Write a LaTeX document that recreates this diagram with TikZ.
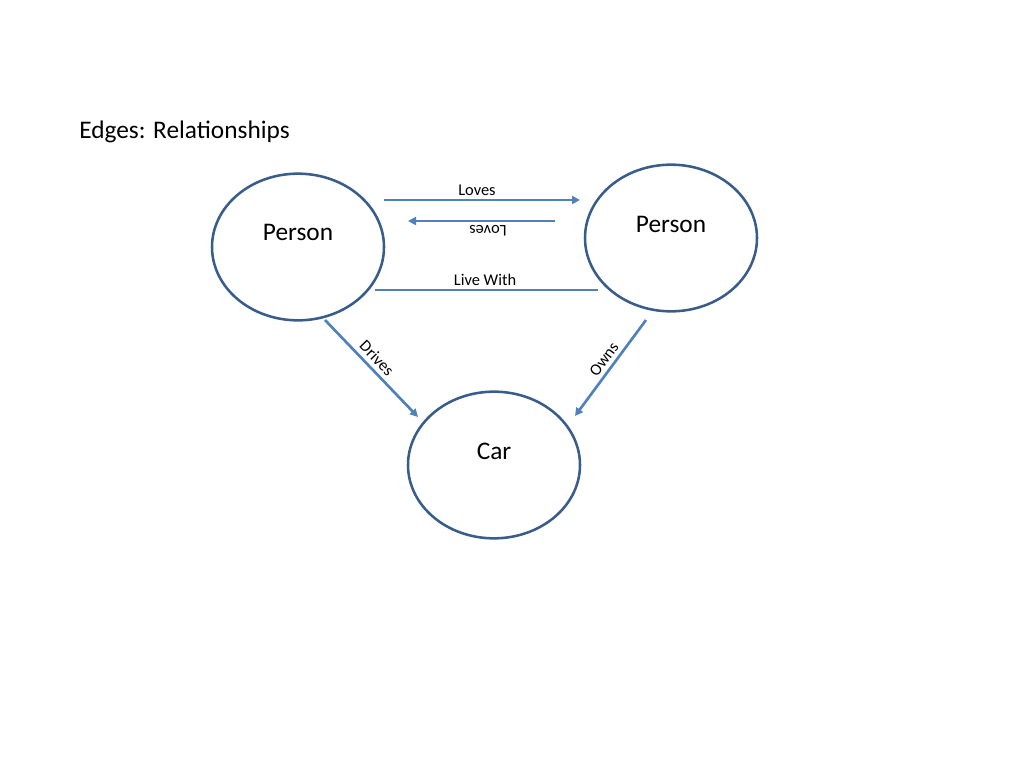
\documentclass[tikz,border=0pt]{standalone}
\usepackage{fontspec}
\setmainfont{Carlito}
\usetikzlibrary{arrows.meta,shapes.geometric}
\definecolor{ring}{HTML}{385D8A}
\definecolor{link}{HTML}{4F81BD}
\begin{document}
\begin{tikzpicture}[x=0.75pt,y=-0.75pt,
  entity/.style={draw=ring,line width=1.9pt,ellipse,minimum width=129pt,minimum height=110pt,inner sep=0pt},
  rel/.style={draw=link,line width=2pt,-{Triangle[length=6pt,width=6pt]}},
  plainrel/.style={draw=link,line width=2pt},
  lab/.style={font=\fontsize{12.3}{14}\selectfont,inner sep=0pt},
  big/.style={font=\fontsize{19}{22}\selectfont,inner sep=0pt}]
\useasboundingbox (0,0) rectangle (1024,768);
\node[anchor=west,big] (title) at (79,132) {Edges: Relationships};
\node[entity] (p1) at (298,247) {};
\node[big] (p1t) at (298,232) {Person};
\node[entity] (p2) at (671,238) {};
\node[big] (p2t) at (671,224) {Person};
\node[entity] (car) at (494,465) {};
\node[big] (cart) at (494,451) {Car};
\coordinate (a1) at (384,200); \coordinate (a2) at (580,200);
\coordinate (b1) at (555,221); \coordinate (b2) at (408,221);
\coordinate (c1) at (375,290); \coordinate (c2) at (598,290);
\coordinate (d1) at (325,320); \coordinate (d2) at (418,417);
\coordinate (e1) at (646,320); \coordinate (e2) at (575,416);
\draw[rel] (a1) -- (a2);
\draw[rel] (b1) -- (b2);
\draw[plainrel] (c1) -- (c2);
\draw[rel] (d1) -- (d2);
\draw[rel] (e1) -- (e2);
\node[lab] (l1) at (477,190) {Loves};
\node[lab,rotate=180] (l2) at (488,231) {Loves};
\node[lab] (l3) at (485,280) {Live With};
\node[lab,rotate=-46] (l4) at (377,358) {Drives};
\node[lab,rotate=54] (l5) at (604,359) {Owns};
\end{tikzpicture}
\end{document}
